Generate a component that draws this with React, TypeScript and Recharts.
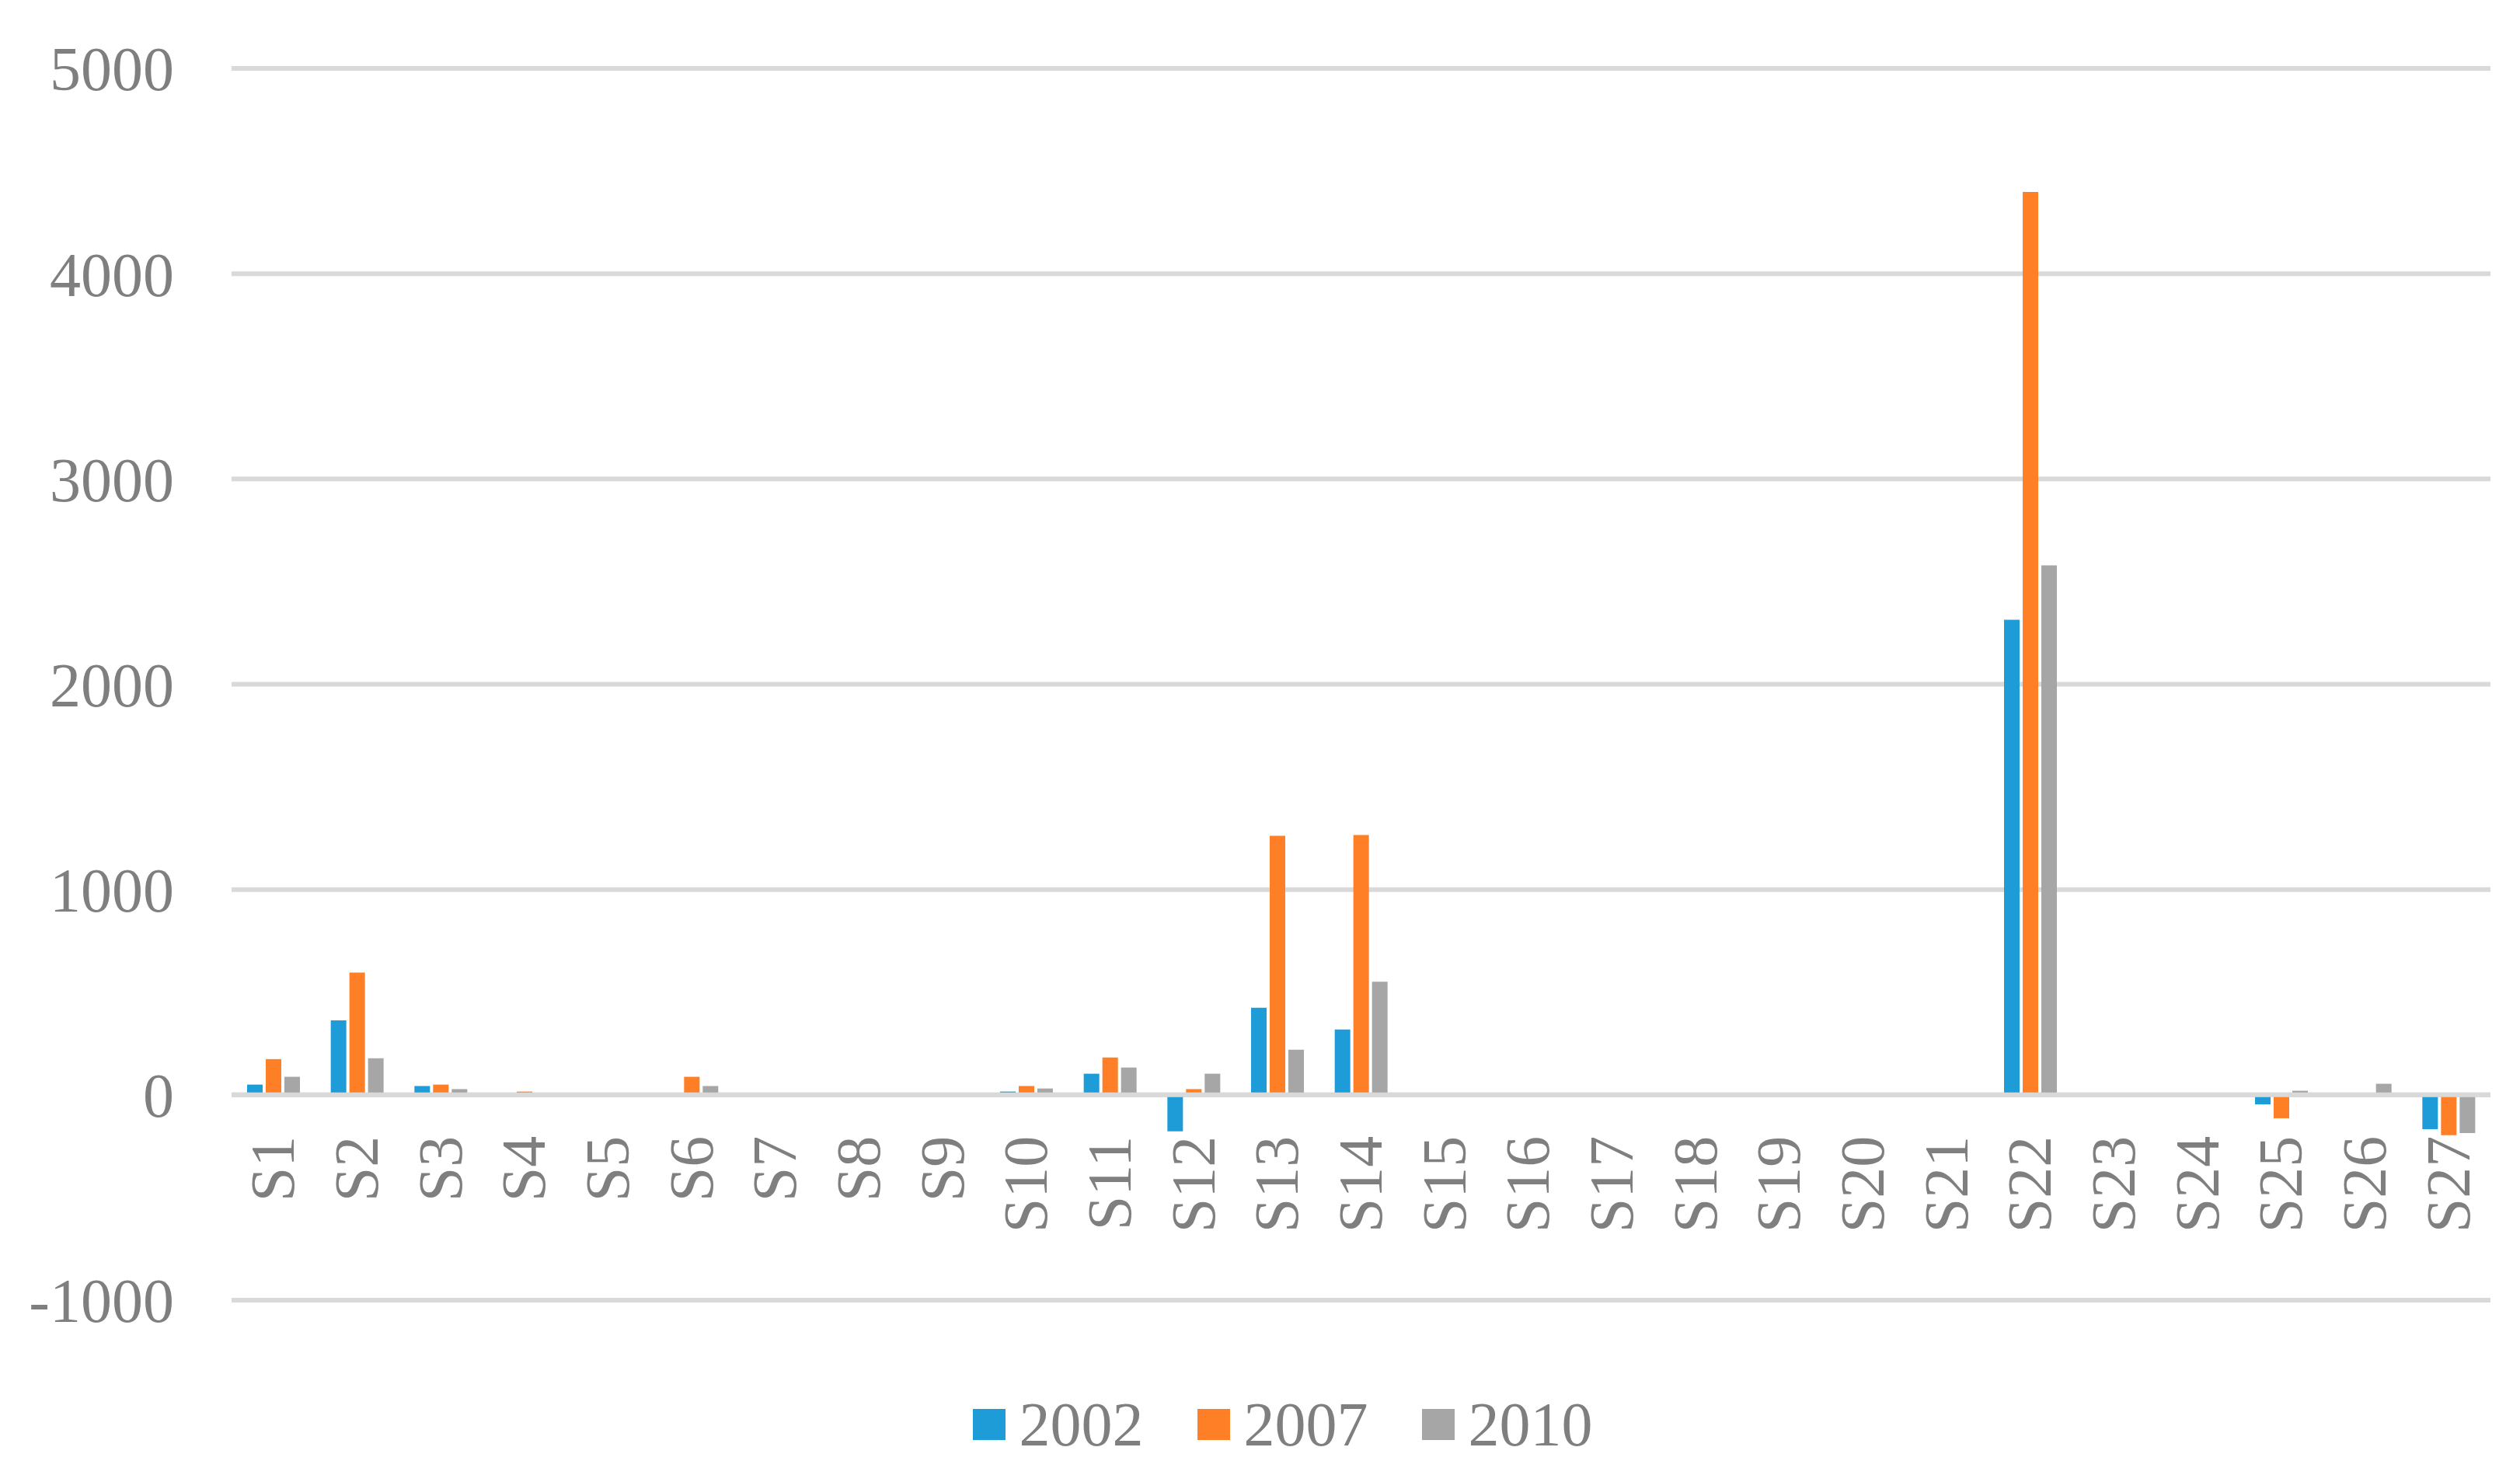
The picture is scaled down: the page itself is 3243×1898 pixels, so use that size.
import React from 'react';
import { BarChart, Bar, XAxis, YAxis, CartesianGrid, Legend, ReferenceLine } from 'recharts';

const categories = [
  'S1', 'S2', 'S3', 'S4', 'S5', 'S6', 'S7', 'S8', 'S9', 'S10', 'S11', 'S12', 'S13', 'S14',
  'S15', 'S16', 'S17', 'S18', 'S19', 'S20', 'S21', 'S22', 'S23', 'S24', 'S25', 'S26', 'S27',
];
const values2002 = [50, 363, 43, 0, 0, 0, 0, 0, 0, 16, 103, -178, 424, 318, 0, 0, 0, 0, 0, 0, 0, 2314, 0, 0, -46, 0, -167];
const values2007 = [174, 596, 50, 16, 0, 88, 0, 0, 0, 43, 182, 28, 1262, 1266, 0, 0, 0, 0, 0, 0, 0, 4398, 0, 0, -114, 0, -197];
const values2010 = [88, 178, 28, 0, 0, 43, 0, 0, 0, 31, 133, 103, 220, 551, 0, 0, 0, 0, 0, 0, 0, 2579, 0, 0, 20, 54, -186];
const yTicks = [-1000, 0, 1000, 2000, 3000, 4000, 5000];

const series = [
  { key: 'y2002', name: '2002', color: '#1E9CD8' },
  { key: 'y2007', name: '2007', color: '#FF7F27' },
  { key: 'y2010', name: '2010', color: '#A6A6A6' },
];

const data = categories.map((c, i) => ({
  name: c,
  y2002: values2002[i],
  y2007: values2007[i],
  y2010: values2010[i],
}));

const W = 3243;
const H = 1898;
const TOP = 88;
const PLOT_H = 1585;
const Y_MIN = -1000;
const Y_MAX = 5000;
const ZERO_Y = TOP + PLOT_H * (Y_MAX / (Y_MAX - Y_MIN));
const FONT = '"Liberation Serif", "Times New Roman", serif';
const TEXT = '#7F7F7F';

// category labels sit just under the zero line, like Excel does
function CategoryTick(props: any) {
  const { x, payload } = props;
  return (
    <text
      transform={`translate(${x}, ${ZERO_Y + 53}) rotate(-90)`}
      textAnchor="end"
      dy="0.33em"
      fill={TEXT}
      fontSize={80}
      fontFamily={FONT}
    >
      {payload.value}
    </text>
  );
}

function LegendBox() {
  return (
    <div
      style={{
        height: 90,
        display: 'flex',
        justifyContent: 'center',
        alignItems: 'center',
        paddingLeft: 96,
        fontFamily: FONT,
        fontSize: 80,
        lineHeight: 1,
        color: TEXT,
      }}
    >
      {series.map((s, i) => (
        <div key={s.key} style={{ display: 'flex', alignItems: 'center', marginLeft: i === 0 ? 0 : 69 }}>
          <div style={{ width: 42, height: 40, background: s.color, marginRight: 18 }} />
          <span>{s.name}</span>
        </div>
      ))}
    </div>
  );
}

export default function App() {
  return (
    <div style={{ position: 'absolute', left: 0, top: 0, background: '#fff' }}>
      <BarChart
        width={W}
        height={H}
        data={data}
        margin={{ top: TOP, right: 38, left: 0, bottom: 20 }}
        barSize={20}
        barGap={4}
      >
        <CartesianGrid vertical={false} stroke="#D9D9D9" strokeWidth={6} />
        <XAxis
          dataKey="name"
          height={H - TOP - PLOT_H - 20 - 90}
          axisLine={false}
          tickLine={false}
          interval={0}
          tick={<CategoryTick />}
        />
        <YAxis
          width={298}
          domain={[Y_MIN, Y_MAX]}
          ticks={yTicks}
          interval={0}
          axisLine={false}
          tickLine={false}
          tickSize={0}
          tickMargin={74}
          tick={{ fill: TEXT, fontSize: 80, fontFamily: FONT }}
        />
        <Legend verticalAlign="bottom" content={<LegendBox />} />
        {series.map((s) => (
          <Bar key={s.key} dataKey={s.key} name={s.name} fill={s.color} isAnimationActive={false} />
        ))}
        <ReferenceLine y={0} stroke="#D9D9D9" strokeWidth={6} />
      </BarChart>
    </div>
  );
}
